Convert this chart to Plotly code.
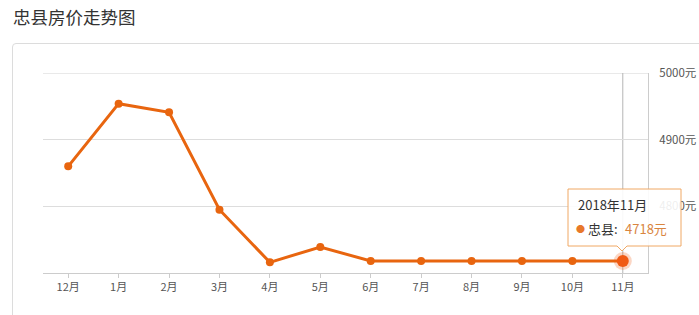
import plotly.graph_objects as go

months = ["12月", "1月", "2月", "3月", "4月", "5月", "6月", "7月", "8月", "9月", "10月", "11月"]
prices = [4860, 4954, 4941, 4795, 4716, 4739, 4718, 4718, 4718, 4718, 4718, 4718]
y_ticks = [4800, 4900, 5000]
y_tick_labels = [f"{v}元" for v in y_ticks]
title_text = "忠县房价走势图"
series_name = "忠县"
tip_title = "2018年11月"

W, H = 699, 315
L, R, T, B = 43, 51, 73, 42
PW, PH = W - L - R, H - T - B


def px(x):
    return (x - L) / PW


def py(y):
    return (H - B - y) / PH


FONT = "Noto Sans CJK SC, Noto Sans, sans-serif"
LINE = "#e8650f"

fig = go.Figure()
fig.add_trace(go.Scatter(
    x=months, y=prices, mode="lines+markers",
    line=dict(color=LINE, width=3),
    marker=dict(color=LINE, size=8),
    hoverinfo="skip", showlegend=False,
))
# emphasised last point
fig.add_trace(go.Scatter(
    x=[months[-1]], y=[prices[-1]], mode="markers",
    marker=dict(color="rgba(240,90,20,0.25)", size=18),
    hoverinfo="skip", showlegend=False,
))
fig.add_trace(go.Scatter(
    x=[months[-1]], y=[prices[-1]], mode="markers",
    marker=dict(color="#f05a14", size=12),
    hoverinfo="skip", showlegend=False,
))

shapes = []
# card border
shapes.append(dict(type="path", xref="paper", yref="paper",
                   path=f"M {px(12.5)},{py(330)} L {px(12.5)},{py(47)} Q {px(12.5)},{py(43.5)} {px(16)},{py(43.5)} L {px(720)},{py(43.5)}",
                   line=dict(color="#dcdcdc", width=1), layer="below"))
# top gridline (5000)
shapes.append(dict(type="line", xref="paper", yref="y", x0=0, x1=1,
                   y0=y_ticks[-1], y1=y_ticks[-1], line=dict(color="#d4d4d4", width=1),
                   layer="below"))
# crosshair
shapes.append(dict(type="line", xref="x", yref="paper", x0=months[-1], x1=months[-1],
                   y0=0, y1=1, line=dict(color="#b5b5b5", width=1), layer="below"))
# tooltip
tx0, tx1, ty0, ty1 = 568, 681, 189, 246
shapes.append(dict(type="path", xref="paper", yref="paper",
                   path=(f"M {px(tx0)},{py(ty0)} L {px(tx1)},{py(ty0)} L {px(tx1)},{py(ty1)} "
                         f"L {px(627)},{py(ty1)} L {px(622)},{py(251)} L {px(617)},{py(ty1)} "
                         f"L {px(tx0)},{py(ty1)} Z"),
                   fillcolor="rgba(255,255,255,0.9)", line=dict(color="#f0a865", width=1),
                   layer="above"))

annotations = [
    dict(text=title_text, xref="paper", yref="paper", x=px(11), y=py(16),
         xanchor="left", yanchor="middle", showarrow=False,
         font=dict(family=FONT, size=17.5, color="#333333")),
    dict(text=tip_title, xref="paper", yref="paper", x=px(576), y=py(205),
         xanchor="left", yanchor="middle", showarrow=False,
         font=dict(family=FONT, size=13, color="#333333")),
    dict(text="●", xref="paper", yref="paper",
         x=px(580.5), y=py(228), xanchor="center", yanchor="middle", showarrow=False,
         font=dict(family=FONT, size=9, color="#e8782a")),
    dict(text=series_name + ":", xref="paper", yref="paper",
         x=px(586), y=py(228), xanchor="left", yanchor="middle", showarrow=False,
         font=dict(family=FONT, size=13, color="#333333")),
    dict(text=f"{prices[-1]}元", xref="paper", yref="paper", x=px(669), y=py(228),
         xanchor="right", yanchor="middle", showarrow=False,
         font=dict(family=FONT, size=13, color="#d9853f")),
]

fig.update_layout(
    width=W, height=H, margin=dict(l=L, r=R, t=T, b=B, autoexpand=False),
    paper_bgcolor="white", plot_bgcolor="white",
    font=dict(family=FONT, size=11, color="#555555"),
    shapes=shapes, annotations=annotations,
    xaxis=dict(type="category", categoryorder="array", categoryarray=months,
               range=[-0.5, len(months) - 0.5], showgrid=False, zeroline=False,
               showline=True, linecolor="#cccccc", linewidth=1,
               ticks="outside", ticklen=4, tickcolor="#cccccc", automargin=False,
               tickfont=dict(family=FONT, size=11, color="#555555")),
    yaxis=dict(side="right", range=[4700, 5000], tickmode="array",
               tickvals=y_ticks, ticktext=y_tick_labels, automargin=False,
               showgrid=True, gridcolor="#dddddd", zeroline=False,
               showline=True, linecolor="#cccccc", linewidth=1, ticks="",
               ticklabelstandoff=8,
               tickfont=dict(family=FONT, size=11.5, color="#555555")),
)

fig.write_html("out.html")
